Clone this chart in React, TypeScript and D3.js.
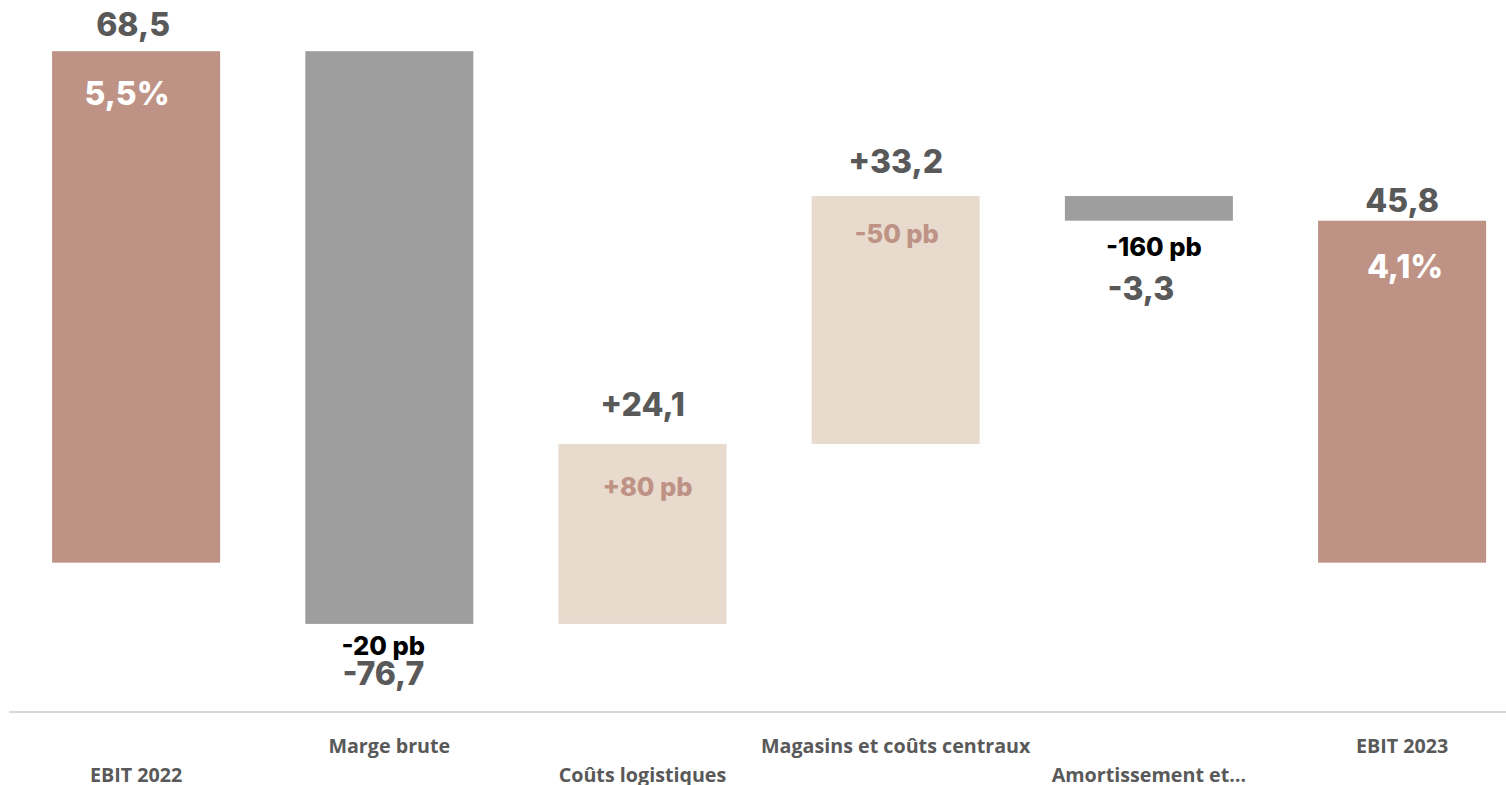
import React from "react";
import * as d3 from "d3";

const categories = [
  "EBIT 2022",
  "Marge brute",
  "Coûts logistiques",
  "Magasins et coûts centraux",
  "Amortissement et…",
  "EBIT 2023",
];
const values = [68.5, -76.7, 24.1, 33.2, -3.3, 45.8];
const isTotal = [true, false, false, false, false, true];
const valueLabels = ["68,5", "-76,7", "+24,1", "+33,2", "-3,3", "45,8"];
const marginLabels = ["5,5%", "-20 pb", "+80 pb", "-50 pb", "-160 pb", "4,1%"];
const yDomain = [-20, 70];

const W = 1506;
const H = 785;
const BROWN = "#BE9386";
const GRAY = "#9E9E9E";
const BEIGE = "#E8DACD";
const TXT = "#595959";
const VFONT = "Inter, 'Noto Sans', sans-serif";
const CFONT = "'Open Sans', 'Noto Sans', sans-serif";

// per-bar label layout tweaks (pixels)
const topOffsets = [-15, 0, -28, -23, 0, -9];
const insideOffsets = [54, 0, 52, 47, 0, 57];
const dxValue = [-3, -6, 0, 0, -8, 0];
const dxMargin = [-9, -6, 5, 1, 5, 3];

export default function App() {
  const x = d3
    .scaleBand<string>()
    .domain(categories)
    .range([9.5, 9.5 + 6 * 253.2])
    .paddingInner(0.3365)
    .paddingOuter(0.3365 / 2);
  const y = d3.scaleLinear().domain(yDomain).range([712, 40]);

  let run = 0;
  const bars = values.map((v, i) => {
    let a: number, b: number;
    if (isTotal[i]) {
      a = 0;
      b = v;
      run = v;
    } else {
      a = run;
      b = run + v;
      run = b;
    }
    return { i, v, lo: Math.min(a, b), hi: Math.max(a, b) };
  });

  return (
    <svg
      width={W}
      height={H}
      style={{ position: "absolute", left: 0, top: 0, background: "#fff" }}
    >
      <line x1={9} x2={W} y1={y(yDomain[0])} y2={y(yDomain[0])} stroke="#D9D9D9" strokeWidth={2} />
      {bars.map((d) => {
        const x0 = x(categories[d.i])!;
        const bw = x.bandwidth();
        const cx = x0 + bw / 2;
        const fill = isTotal[d.i] ? BROWN : d.v < 0 ? GRAY : BEIGE;
        const top = y(d.hi);
        const bot = y(d.lo);
        const neg = !isTotal[d.i] && d.v < 0;
        return (
          <g key={d.i}>
            <rect x={x0} y={top} width={bw} height={bot - top} fill={fill} />
            {neg ? (
              <>
                <text
                  x={cx + dxMargin[d.i]}
                  y={bot + (d.i === 1 ? 31 : 35)}
                  textAnchor="middle"
                  fontFamily={VFONT}
                  fontWeight={800}
                  fontSize={25.5}
                  fill="#000"
                >
                  {marginLabels[d.i]}
                </text>
                <text
                  x={cx + dxValue[d.i]}
                  y={bot + (d.i === 1 ? 61 : 79)}
                  textAnchor="middle"
                  fontFamily={VFONT}
                  fontWeight={800}
                  fontSize={32}
                  fill={TXT}
                >
                  {valueLabels[d.i]}
                </text>
              </>
            ) : (
              <>
                <text
                  x={cx + dxValue[d.i]}
                  y={top + topOffsets[d.i]}
                  textAnchor="middle"
                  fontFamily={VFONT}
                  fontWeight={800}
                  fontSize={32}
                  fill={TXT}
                >
                  {valueLabels[d.i]}
                </text>
                <text
                  x={cx + dxMargin[d.i]}
                  y={top + insideOffsets[d.i]}
                  textAnchor="middle"
                  fontFamily={VFONT}
                  fontWeight={800}
                  fontSize={isTotal[d.i] ? 32 : 25.5}
                  fill={isTotal[d.i] ? "#fff" : BROWN}
                >
                  {marginLabels[d.i]}
                </text>
              </>
            )}
            <text
              x={cx}
              y={d.i % 2 === 0 ? 782 : 753}
              textAnchor="middle"
              fontFamily={CFONT}
              fontWeight={700}
              fontSize={19.7}
              fill={TXT}
            >
              {categories[d.i]}
            </text>
          </g>
        );
      })}
    </svg>
  );
}
